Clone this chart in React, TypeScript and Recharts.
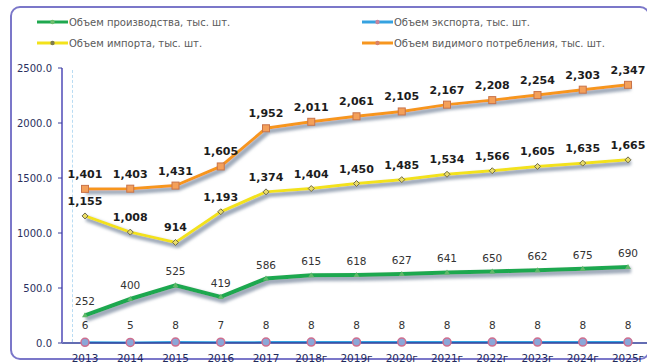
import { LineChart, Line, XAxis, YAxis, LabelList } from 'recharts'

const years = ['2013', '2014', '2015', '2016', '2017', '2018г', '2019г', '2020г', '2021г', '2022г', '2023г', '2024г', '2025г']
const production = [252, 400, 525, 419, 586, 615, 618, 627, 641, 650, 662, 675, 690]
const exports = [6, 5, 8, 7, 8, 8, 8, 8, 8, 8, 8, 8, 8]
const imports = [1155, 1008, 914, 1193, 1374, 1404, 1450, 1485, 1534, 1566, 1605, 1635, 1665]
const consumption = [1401, 1403, 1431, 1605, 1952, 2011, 2061, 2105, 2167, 2208, 2254, 2303, 2347]
const yTicks = [0, 500, 1000, 1500, 2000, 2500]

const data = years.map((year, i) => ({
  year,
  production: production[i],
  exports: exports[i],
  imports: imports[i],
  consumption: consumption[i],
}))

const FONT = '"DejaVu Sans", Verdana, sans-serif'
const fmt = (v: number) => v.toLocaleString('en-US')

const legendItems = [
  { name: 'Объем производства, тыс. шт.', color: '#1fa84f', marker: '#6fbf6f', x: 37, y: 22 },
  { name: 'Объем экспорта, тыс. шт.', color: '#36a2e0', marker: '#c9849a', x: 362, y: 22 },
  { name: 'Объем импорта, тыс. шт.', color: '#f3e21a', marker: '#7d7a50', x: 37, y: 43 },
  { name: 'Объем видимого потребления, тыс. шт.', color: '#f7961f', marker: '#d8826a', x: 362, y: 43 },
]

const SquareDot = (props: any) => {
  const { cx, cy, index } = props
  if (cx == null || cy == null) return null
  return <rect key={index} x={cx - 3.5} y={cy - 3.5} width={7} height={7} fill="#f4a05a" stroke="#c8734a" strokeWidth={1} />
}

const DiamondDot = (props: any) => {
  const { cx, cy, index } = props
  if (cx == null || cy == null) return null
  return <path key={index} d={`M${cx},${cy - 3}L${cx + 3},${cy}L${cx},${cy + 3}L${cx - 3},${cy}Z`} fill="#e9dc6a" stroke="#6f6a4a" strokeWidth={1} />
}

const CircleDot = (props: any) => {
  const { cx, cy, index } = props
  if (cx == null || cy == null) return null
  return <circle key={index} cx={cx} cy={cy} r={4} fill="#8ba7d8" stroke="#cf6f8f" strokeWidth={1.5} />
}

const TriDot = (props: any) => {
  const { cx, cy, index } = props
  if (cx == null || cy == null) return null
  return <path key={index} d={`M${cx},${cy - 3}L${cx + 3},${cy + 2}L${cx - 3},${cy + 2}Z`} fill="#5fb86a" />
}

export default function App() {
  return (
    <div style={{ position: 'fixed', left: 0, top: 0, width: 647, height: 364, overflow: 'hidden', background: '#fff', fontFamily: FONT }}>
      <style>{`.shadowed .recharts-line-curve { filter: url(#lineShadow); }`}</style>
      <svg width={0} height={0} style={{ position: 'absolute' }}>
        <defs>
          <filter id="lineShadow" filterUnits="userSpaceOnUse" x={0} y={0} width={700} height={400}>
            <feMorphology in="SourceAlpha" operator="dilate" radius={1.2} result="thick" />
            <feGaussianBlur in="thick" stdDeviation={1.4} result="blur" />
            <feOffset in="blur" dx={2} dy={3} result="off" />
            <feFlood floodColor="#95a1b2" floodOpacity={0.9} />
            <feComposite in2="off" operator="in" result="shadow" />
            <feMerge>
              <feMergeNode in="shadow" />
              <feMergeNode in="SourceGraphic" />
            </feMerge>
          </filter>
        </defs>
      </svg>

      {/* rounded frame around the whole chart */}
      <div style={{ position: 'absolute', left: 10, top: 6, width: 640, height: 354, border: '2px solid #7b77c9', borderRadius: 10, boxSizing: 'border-box' }} />
      {/* faint dashed guide just right of the value axis */}
      <div style={{ position: 'absolute', left: 72, top: 70, height: 272, borderLeft: '1px dashed #b9dcf3' }} />

      {legendItems.map((item) => (
        <div key={item.name} style={{ position: 'absolute', left: item.x, top: item.y - 7, height: 14, display: 'flex', alignItems: 'center' }}>
          <svg width={32} height={14}>
            <line x1={0} y1={7} x2={31} y2={7} stroke={item.color} strokeWidth={3} />
            <circle cx={15.5} cy={7} r={2.2} fill={item.marker} />
          </svg>
          <span style={{ fontSize: 10, color: '#5a5a5a', whiteSpace: 'nowrap' }}>{item.name}</span>
        </div>
      ))}

      <div style={{ position: 'absolute', left: 0, top: 0 }}>
        <LineChart width={660} height={364} data={data} margin={{ top: 68, right: 10, left: 0, bottom: 0 }}>
          <XAxis
            dataKey="year"
            height={21}
            padding={{ left: 23, right: 22 }}
            axisLine={{ stroke: '#2f3d9a', strokeWidth: 1.5 }}
            tickLine={false}
            tickMargin={6}
            tick={{ fill: '#1f2a5c', fontSize: 10.5, fontFamily: FONT }}
            interval={0}
          />
          <YAxis
            width={62}
            domain={[0, 2500]}
            ticks={yTicks}
            tickFormatter={(v: number) => v.toFixed(1)}
            axisLine={{ stroke: '#7b77c9', strokeWidth: 2 }}
            tickLine={{ stroke: '#3a3f9a' }}
            tickSize={4}
            tickMargin={6}
            tick={{ fill: '#2a3060', fontSize: 10, fontFamily: FONT }}
          />
          <Line
            className="shadowed"
            dataKey="consumption"
            stroke="#f7961f"
            strokeWidth={3}
            dot={SquareDot}
            isAnimationActive={false}
          >
            <LabelList dataKey="consumption" position="top" offset={11} formatter={fmt} fill="#1c1c1c" fontSize={11} fontWeight={700} fontFamily={FONT} />
          </Line>
          <Line
            className="shadowed"
            dataKey="imports"
            stroke="#f3e21a"
            strokeWidth={3}
            dot={DiamondDot}
            isAnimationActive={false}
          >
            <LabelList dataKey="imports" position="top" offset={11} formatter={fmt} fill="#1c1c1c" fontSize={11} fontWeight={700} fontFamily={FONT} />
          </Line>
          <Line
            className="shadowed"
            dataKey="production"
            stroke="#1fa84f"
            strokeWidth={4}
            dot={TriDot}
            isAnimationActive={false}
          >
            <LabelList dataKey="production" position="top" offset={10} formatter={fmt} fill="#333" fontSize={10.5} fontFamily={FONT} />
          </Line>
          <Line
            dataKey="exports"
            stroke="#36a2e0"
            strokeWidth={2}
            dot={CircleDot}
            isAnimationActive={false}
          >
            <LabelList dataKey="exports" position="top" offset={13} formatter={fmt} fill="#333" fontSize={10.5} fontFamily={FONT} />
          </Line>
        </LineChart>
      </div>
    </div>
  )
}
